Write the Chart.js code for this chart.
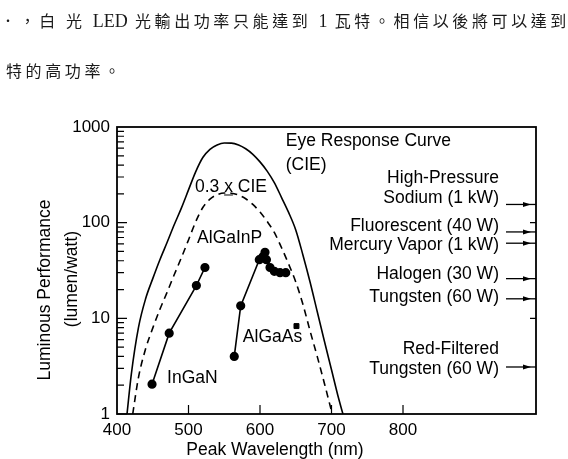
<!DOCTYPE html>
<html>
<head>
<meta charset="utf-8">
<script src="https://cdn.jsdelivr.net/npm/chart.js@4.4.1/dist/chart.umd.min.js"></script>
<style>
  html, body { margin: 0; padding: 0; background: #fff; }
  #wrap { position: relative; width: 568px; height: 459px; overflow: hidden; }
  #cv { position: absolute; left: 0; top: 0; }
  .zh { position: absolute; left: 0; font-family: "Noto Sans CJK TC"; font-size: 16px; letter-spacing: 3.6px;
        color: #1a1a1a; white-space: pre; line-height: 20px; }
  .zh span { font-family: "Liberation Serif", serif; font-size: 18px; letter-spacing: 0; }
</style>
</head>
<body>
<div id="wrap">
  <canvas id="cv" width="568" height="459"></canvas>
  <div class="zh" style="top:10px">．，白 光 <span>LED</span> 光輸出功率只能達到 <span>1</span> 瓦特。相信以後將可以達到</div>
  <div class="zh" style="top:60px;left:6px">特的高功率。</div>
</div>
<script>
// eye response curve (CIE) and 0.3 x CIE, lumen/watt vs wavelength
const eyeWl = [414, 420, 430, 440, 450, 460, 470, 480, 490, 500, 510, 520, 530, 540, 550, 560, 570, 580, 590, 600, 610, 620, 630, 640, 650, 660, 670, 680, 690, 700, 710, 716];
const eyeLm = [1, 2.6, 8, 16, 26, 41, 62, 95, 142, 220, 340, 480, 585, 650, 680, 678, 648, 592, 518, 432, 346, 262, 184, 128, 84, 46, 24, 11.8, 5.8, 2.9, 1.45, 1];
const cieWl = [422, 430, 440, 450, 460, 470, 480, 490, 500, 510, 520, 530, 540, 550, 560, 570, 580, 590, 600, 610, 620, 630, 640, 650, 660, 670, 680, 690, 701];
const cieLm = [1, 2.4, 4.8, 7.9, 12.4, 18.7, 28.5, 43, 66, 102, 144, 176, 196, 204, 203, 194, 178, 155, 129, 103, 79, 55, 37, 24, 14, 7.4, 4, 2.1, 1];

// LED measurements
const inganWl = [449, 473, 511, 523];
const inganLm = [2.05, 7, 22, 34];
const alginpWl = [564, 573, 599, 604, 607, 609, 614, 620, 628, 636];
const alginpLm = [4, 13.5, 41, 44, 49, 41, 34, 31, 30, 30];
const algaasWl = [651];
const algaasLm = [8.3];

// lamps on the right side
const lampNames = [['High-Pressure', 'Sodium (1 kW)'], ['Fluorescent (40 W)'], ['Mercury Vapor (1 kW)'],
                   ['Halogen (30 W)'], ['Tungsten (60 W)'], ['Red-Filtered', 'Tungsten (60 W)']];
const lampLm = [155, 80, 61, 26, 16, 3.1];
const lampTextShift = [-6, -6, 2, -4, -2, 2];

const yTicks = [1, 10, 100, 1000];
const xTickLabels = [400, 500, 600, 700, 800];

const pts = (xs, ys) => xs.map((x, i) => ({x: x, y: ys[i]}));
const FONT = '"Liberation Sans", Arial, sans-serif';

const notes = [
  {text: 'Eye Response Curve', x: 636, y: 713},
  {text: '(CIE)', x: 636, y: 400},
  {text: '0.3 x CIE', x: 509, y: 236, underline: [4, 5]},
  {text: 'AlGaInP', x: 512, y: 69},
  {text: 'InGaN', x: 470, y: 2.38},
  {text: 'AlGaAs', x: 576, y: 6.4}
];

const decor = {
  id: 'decor',
  afterDraw(chart) {
    const {ctx, chartArea: a, scales: {x, y}} = chart;
    ctx.save();
    ctx.strokeStyle = '#000';
    ctx.fillStyle = '#000';
    ctx.lineWidth = 1.8;
    ctx.strokeRect(a.left, a.top, a.right - a.left, a.bottom - a.top);

    // inner ticks
    ctx.lineWidth = 1.2;
    ctx.beginPath();
    for (let d = 1; d < 1000; d *= 10) {
      for (let m = 1; m < 10; m++) {
        const py = y.getPixelForValue(d * m);
        ctx.moveTo(a.left, py);
        ctx.lineTo(a.left + (m === 1 ? 10 : 7), py);
      }
    }
    [10, 100].forEach(v => {
      const py = y.getPixelForValue(v);
      ctx.moveTo(a.right, py);
      ctx.lineTo(a.right - 6, py);
    });
    [500, 600, 700, 800].forEach(v => {
      const px = x.getPixelForValue(v);
      ctx.moveTo(px, a.bottom);
      ctx.lineTo(px, a.bottom - 9);
    });
    ctx.stroke();

    // lamp arrows and labels
    const x0 = x.getPixelForValue(944), x1 = a.right;
    ctx.font = '17.5px ' + FONT;
    ctx.textAlign = 'right';
    ctx.textBaseline = 'middle';
    lampLm.forEach((v, i) => {
      const py = y.getPixelForValue(v);
      ctx.lineWidth = 1.3;
      ctx.beginPath();
      ctx.moveTo(x0, py);
      ctx.lineTo(x1, py);
      ctx.stroke();
      ctx.beginPath();
      ctx.moveTo(x1 - 5, py);
      ctx.lineTo(x1 - 13, py - 2.5);
      ctx.lineTo(x1 - 13, py + 2.5);
      ctx.closePath();
      ctx.fill();
      const lines = lampNames[i];
      lines.forEach((t, k) => {
        ctx.fillText(t, x0 - 7, py + lampTextShift[i] - (lines.length - 1 - k) * 20);
      });
    });

    // curve labels
    ctx.textAlign = 'left';
    notes.forEach(n => {
      const px = x.getPixelForValue(n.x), py = y.getPixelForValue(n.y);
      ctx.fillText(n.text, px, py);
      if (n.underline) {
        const pre = ctx.measureText(n.text.slice(0, n.underline[0])).width;
        const w = ctx.measureText(n.text.slice(n.underline[0], n.underline[1])).width;
        ctx.lineWidth = 1;
        ctx.beginPath();
        ctx.moveTo(px + pre, py + 8);
        ctx.lineTo(px + pre + w, py + 8);
        ctx.stroke();
      }
    });

    // axis titles
    ctx.textAlign = 'center';
    ctx.fillText('Peak Wavelength (nm)', x.getPixelForValue(621), a.bottom + 36);
    ctx.translate(45, 290);
    ctx.rotate(-Math.PI / 2);
    ctx.fillText('Luminous Performance', 0, 0);
    ctx.rotate(Math.PI / 2);
    ctx.translate(27, -11);
    ctx.rotate(-Math.PI / 2);
    ctx.fillText('(lumen/watt)', 0, 0);
    ctx.restore();
  }
};

new Chart(document.getElementById('cv'), {
  type: 'scatter',
  plugins: [decor],
  options: {
    responsive: false,
    animation: false,
    devicePixelRatio: 1,
    layout: {padding: {top: 127, right: 32, left: 0, bottom: 0}},
    plugins: {legend: {display: false}, tooltip: {enabled: false}},
    scales: {
      x: {
        type: 'linear',
        min: 400,
        max: 986,
        afterFit: s => { s.height = 45; },
        grid: {display: false, drawTicks: false},
        border: {display: false},
        ticks: {
          stepSize: 100,
          autoSkip: false,
          maxRotation: 0,
          padding: 6,
          color: '#000',
          font: {family: FONT, size: 17},
          callback: v => xTickLabels.includes(v) ? String(v) : ''
        }
      },
      y: {
        type: 'logarithmic',
        min: 1,
        max: 1000,
        afterFit: s => { s.width = 117; },
        grid: {display: false, drawTicks: false},
        border: {display: false},
        ticks: {
          autoSkip: false,
          padding: 7,
          color: '#000',
          font: {family: FONT, size: 17},
          callback: v => yTicks.includes(v) ? String(v) : ''
        }
      }
    }
  },
  data: {
    datasets: [
      {
        label: 'Eye Response Curve (CIE)',
        data: pts(eyeWl, eyeLm),
        showLine: true,
        cubicInterpolationMode: 'monotone',
        borderColor: '#000',
        borderWidth: 1.6,
        pointRadius: 0
      },
      {
        label: '0.3 x CIE',
        data: pts(cieWl, cieLm),
        showLine: true,
        cubicInterpolationMode: 'monotone',
        borderColor: '#000',
        borderWidth: 1.6,
        borderDash: [7, 5],
        pointRadius: 0
      },
      {
        label: 'InGaN',
        data: pts(inganWl, inganLm),
        showLine: true,
        borderColor: '#000',
        borderWidth: 1.6,
        pointRadius: 3.8,
        pointBackgroundColor: '#000'
      },
      {
        label: 'AlGaInP',
        data: pts(alginpWl, alginpLm),
        showLine: true,
        borderColor: '#000',
        borderWidth: 1.6,
        pointRadius: 3.8,
        pointBackgroundColor: '#000'
      },
      {
        label: 'AlGaAs',
        data: pts(algaasWl, algaasLm),
        pointStyle: 'rect',
        pointRadius: 3.5,
        borderColor: '#000',
        pointBackgroundColor: '#000'
      }
    ]
  }
});
</script>
</body>
</html>
